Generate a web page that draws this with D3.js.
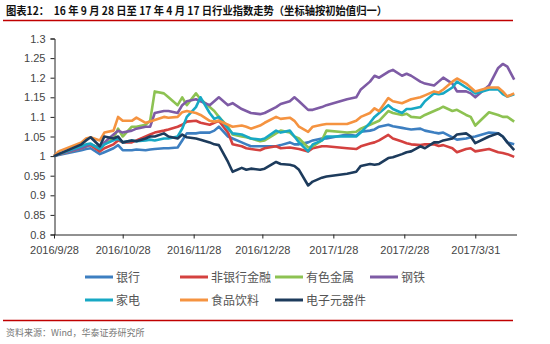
<!DOCTYPE html>
<html><head><meta charset="utf-8">
<script src="https://cdn.jsdelivr.net/npm/d3@7"></script>
<style>
html,body{margin:0;padding:0;background:#fff;}
svg{display:block;}
</style></head>
<body>
<svg id="c" width="550" height="344"></svg>
<script>
const dates = ["2016-09-28","2016-09-30","2016-10-10","2016-10-12","2016-10-14","2016-10-18","2016-10-20","2016-10-24","2016-10-26","2016-10-28",
"2016-11-01","2016-11-03","2016-11-07","2016-11-09","2016-11-11","2016-11-15","2016-11-17","2016-11-21","2016-11-23","2016-11-25",
"2016-11-29","2016-12-01","2016-12-05","2016-12-07","2016-12-09","2016-12-13","2016-12-15","2016-12-19","2016-12-21","2016-12-23",
"2016-12-27","2016-12-29","2017-01-03","2017-01-05","2017-01-09","2017-01-11","2017-01-13","2017-01-17","2017-01-19","2017-01-23",
"2017-01-25","2017-02-03","2017-02-07","2017-02-09","2017-02-13","2017-02-15","2017-02-17","2017-02-21","2017-02-23","2017-02-27",
"2017-03-01","2017-03-03","2017-03-07","2017-03-09","2017-03-13","2017-03-15","2017-03-17","2017-03-21","2017-03-23","2017-03-27",
"2017-03-29","2017-03-31","2017-04-06","2017-04-10","2017-04-12","2017-04-14","2017-04-17"];

const bank = [1.0,1.003,1.015,1.018,1.02,1.005,1.01,1.02,1.028,1.015, 1.015,1.017,1.015,1.017,1.018,1.02,1.02,1.022,1.04,1.058, 1.058,1.06,1.06,1.065,1.075,1.05,1.045,1.035,1.03,1.025, 1.025,1.025,1.025,1.028,1.035,1.03,1.03,1.035,1.04,1.045, 1.045,1.055,1.052,1.062,1.065,1.068,1.075,1.08,1.076,1.072, 1.07,1.068,1.07,1.065,1.06,1.058,1.06,1.048,1.042,1.045, 1.048,1.05,1.06,1.058,1.05,1.035,1.03];
const nonbank = [1.0,1.004,1.02,1.025,1.028,1.012,1.02,1.03,1.04,1.035, 1.035,1.04,1.05,1.055,1.06,1.065,1.068,1.075,1.08,1.088, 1.09,1.085,1.08,1.085,1.09,1.06,1.03,1.025,1.02,1.018, 1.015,1.02,1.025,1.02,1.022,1.02,1.018,1.012,1.02,1.025, 1.025,1.02,1.018,1.025,1.032,1.035,1.04,1.054,1.045,1.037, 1.033,1.03,1.028,1.03,1.03,1.026,1.028,1.02,1.01,1.018, 1.02,1.012,1.018,1.01,1.008,1.005,0.998];
const metals = [1.0,1.005,1.02,1.025,1.03,1.02,1.03,1.045,1.07,1.05, 1.075,1.075,1.08,1.09,1.165,1.16,1.15,1.13,1.15,1.13, 1.16,1.145,1.125,1.115,1.10,1.075,1.055,1.05,1.048,1.045, 1.038,1.04,1.058,1.065,1.06,1.05,1.045,1.022,1.025,1.04, 1.065,1.06,1.062,1.07,1.08,1.085,1.09,1.115,1.11,1.105, 1.108,1.10,1.098,1.105,1.115,1.12,1.126,1.115,1.118,1.105, 1.10,1.078,1.112,1.105,1.10,1.10,1.088];
const steel = [1.0,1.005,1.02,1.025,1.03,1.02,1.035,1.055,1.065,1.06, 1.065,1.07,1.075,1.075,1.11,1.115,1.115,1.11,1.13,1.14, 1.145,1.14,1.13,1.14,1.15,1.13,1.135,1.12,1.115,1.11, 1.107,1.11,1.125,1.133,1.14,1.15,1.14,1.118,1.118,1.125, 1.13,1.145,1.15,1.17,1.19,1.205,1.20,1.215,1.22,1.205, 1.21,1.205,1.19,1.185,1.18,1.19,1.20,1.185,1.165,1.165, 1.16,1.15,1.18,1.225,1.235,1.228,1.195];
const appliances = [1.0,1.005,1.025,1.03,1.032,1.018,1.03,1.04,1.045,1.035, 1.04,1.038,1.04,1.042,1.04,1.045,1.045,1.05,1.07,1.10, 1.125,1.15,1.11,1.095,1.10,1.07,1.058,1.055,1.05,1.045, 1.042,1.045,1.065,1.06,1.065,1.05,1.035,1.012,1.03,1.04, 1.05,1.05,1.05,1.06,1.085,1.10,1.11,1.13,1.12,1.11, 1.12,1.12,1.125,1.14,1.16,1.158,1.16,1.175,1.19,1.175, 1.168,1.16,1.17,1.17,1.158,1.152,1.158];
const food = [1.0,1.012,1.035,1.045,1.048,1.04,1.06,1.065,1.10,1.09, 1.09,1.098,1.085,1.088,1.092,1.10,1.098,1.10,1.112,1.115, 1.11,1.105,1.09,1.088,1.09,1.08,1.075,1.078,1.075,1.07, 1.078,1.085,1.10,1.095,1.098,1.09,1.075,1.062,1.075,1.08, 1.082,1.082,1.09,1.10,1.11,1.122,1.115,1.148,1.14,1.135, 1.14,1.145,1.15,1.155,1.165,1.162,1.17,1.19,1.198,1.185, 1.175,1.165,1.175,1.175,1.165,1.152,1.16];
const electronics = [1.0,1.005,1.03,1.04,1.048,1.025,1.05,1.045,1.05,1.035, 1.04,1.038,1.045,1.05,1.05,1.058,1.05,1.045,1.055,1.048, 1.045,1.042,1.035,1.03,1.028,0.985,0.96,0.97,0.965,0.968, 0.965,0.968,0.985,0.98,0.978,0.975,0.965,0.925,0.935,0.945, 0.948,0.955,0.96,0.975,0.98,0.978,0.98,0.995,0.997,1.005, 1.01,1.012,1.025,1.02,1.035,1.035,1.04,1.045,1.055,1.058, 1.05,1.033,1.05,1.058,1.05,1.035,1.015];

const seriesNames = ["银行","非银行金融","有色金属","钢铁","家电","食品饮料","电子元器件"];
const seriesValues = [bank, nonbank, metals, steel, appliances, food, electronics];
const seriesColors = ["#3d7fc1","#d4413f","#8dc252","#7e5ba5","#17a8c4","#f59340","#1d3b5c"];

const yTicks = [0.8,0.85,0.9,0.95,1,1.05,1.1,1.15,1.2,1.25,1.3];
const yTickLabels = ["0.8","0.85","0.9","0.95","1","1.05","1.1","1.15","1.2","1.25","1.3"];
const xTickDates = ["2016-09-28","2016-10-28","2016-11-28","2016-12-28","2017-01-28","2017-02-28","2017-03-31"];
const xTickLabels = ["2016/9/28","2016/10/28","2016/11/28","2016/12/28","2017/1/28","2017/2/28","2017/3/31"];

const titleText = "图表12：  16 年 9 月 28 日至 17 年 4 月 17 日行业指数走势（坐标轴按初始值归一）";
const sourceText = "资料来源：Wind，华泰证券研究所";

const parse = d3.utcParse("%Y-%m-%d");
const svg = d3.select("#c");

// title
svg.append("text").attr("x", 6).attr("y", 15)
  .attr("font-family", "'Noto Sans CJK SC', sans-serif").attr("font-weight", "bold")
  .attr("font-size", 11).attr("fill", "#111").style("white-space","pre")
  .attr("textLength", 381).attr("lengthAdjust", "spacingAndGlyphs")
  .text(titleText);
svg.append("line").attr("x1", 3).attr("x2", 513).attr("y1", 20.5).attr("y2", 20.5)
  .attr("stroke", "#c00000").attr("stroke-width", 1.5);

const x = d3.scaleUtc().domain([parse("2016-09-28"), parse("2017-04-18")]).range([54, 516.5]);
const y = d3.scaleLinear().domain([0.8, 1.3]).range([234.5, 38.5]);

const font = "'Liberation Sans', Arial, sans-serif";

// Y axis
const yAxis = d3.axisLeft(y).tickValues(yTicks).tickSize(4).tickPadding(5)
  .tickFormat((d, i) => yTickLabels[i]);
const gy = svg.append("g").attr("transform", "translate(54.5,0)").call(yAxis);
gy.select(".domain").attr("stroke", "#222").attr("stroke-width", 1);
gy.selectAll(".tick line").attr("stroke", "#222");
gy.selectAll("text").attr("font-family", font).attr("font-size", 11).attr("fill", "#444");

// X axis
const xAxis = d3.axisBottom(x).tickValues(xTickDates.map(parse)).tickSize(4).tickSizeOuter(0).tickPadding(8)
  .tickFormat((d, i) => xTickLabels[i]);
const gx = svg.append("g").attr("transform", "translate(0,234.5)").call(xAxis);
gx.select(".domain").attr("stroke", "#222").attr("stroke-width", 1);
gx.selectAll(".tick line").attr("stroke", "#222");
gx.selectAll("text").attr("font-family", font).attr("font-size", 11).attr("fill", "#444");

// lines
const line = d3.line().x(d => x(d[0])).y(d => y(d[1]));
const pDates = dates.map(parse);
seriesValues.forEach((vals, i) => {
  svg.append("path").datum(vals.map((v, j) => [pDates[j], v]))
    .attr("d", line).attr("fill", "none").attr("stroke", seriesColors[i])
    .attr("stroke-width", 2.6).attr("stroke-linejoin", "round");
});

// legend
const legX = [85, 180, 275, 370];
const legY = [277, 300];
seriesNames.forEach((name, i) => {
  const r = i < 4 ? 0 : 1;
  const c = i < 4 ? i : (i === 6 ? 2 : i - 4);
  const lx = legX[c], ly = legY[r];
  svg.append("line").attr("x1", lx).attr("x2", lx + 28).attr("y1", ly).attr("y2", ly)
    .attr("stroke", seriesColors[i]).attr("stroke-width", 3);
  svg.append("text").attr("x", lx + 31).attr("y", ly + 4.5)
    .attr("font-family", "'Noto Sans CJK SC', sans-serif").attr("font-size", 12).attr("fill", "#555")
    .text(name);
});

// footer
svg.append("line").attr("x1", 3).attr("x2", 513).attr("y1", 320.5).attr("y2", 320.5)
  .attr("stroke", "#c00000").attr("stroke-width", 1.5);
svg.append("text").attr("x", 6).attr("y", 336)
  .attr("font-family", "'Noto Sans CJK SC', sans-serif").attr("font-size", 9).attr("fill", "#777")
  .text(sourceText);
</script>
</body></html>
